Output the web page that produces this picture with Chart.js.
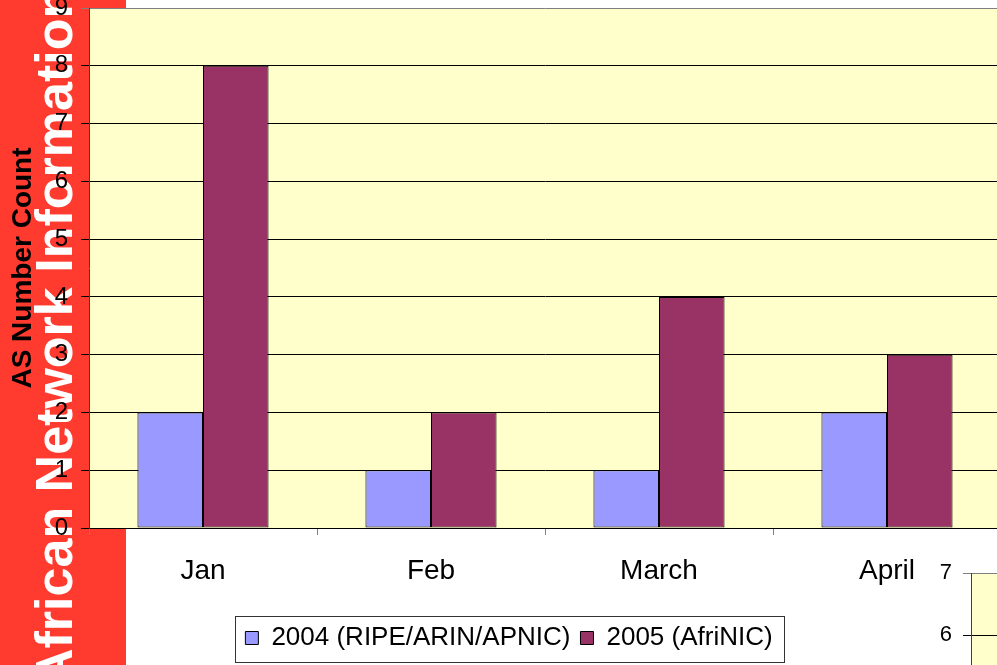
<!DOCTYPE html>
<html>
<head>
<meta charset="utf-8">
<script src="https://cdn.jsdelivr.net/npm/chart.js@4"></script>
<style>
    html, body { margin: 0; padding: 0; background: #fff; overflow: hidden; width: 997px; height: 665px; position: relative; }
    #band { position: absolute; left: 0; top: 0; width: 126px; height: 665px; background: #ff3b30; }
    #band-text { position: absolute; left: 28px; top: 686px; transform-origin: 0 0; transform: rotate(-90deg);
        font: bold 52px/52px "Liberation Sans", Arial, sans-serif; color: #fff; white-space: nowrap; }
    #main-chart { position: absolute; left: 0; top: 0; }
    #side-chart { position: absolute; left: 900px; top: 540px; }
</style>
</head>
<body>
<div id="band"></div>
<div id="band-text">African Network Information</div>
<canvas id="main-chart" width="1036" height="665"></canvas>
<canvas id="side-chart" width="200" height="500"></canvas>
<script>
// Data
const months = ['Jan', 'Feb', 'March', 'April'];
const count2004 = [2, 1, 1, 2];
const count2005 = [8, 2, 4, 3];
const mainMax = 9;
const sideMax = 7;

Chart.defaults.font.family = '"Liberation Sans", Arial, sans-serif';
Chart.defaults.color = '#000';

// yellow plot area
const plotBg = {
    id: 'plotBg',
    beforeDraw(chart) {
        const { ctx, chartArea: a } = chart;
        ctx.save();
        ctx.fillStyle = '#ffffcc';
        ctx.fillRect(a.left, a.top, a.right - a.left, a.bottom - a.top);
        ctx.restore();
    }
};

// frame round the legend
const legendBox = {
    id: 'legendBox',
    afterDraw(chart) {
        const lg = chart.legend;
        if (!lg || !lg.legendHitBoxes || !lg.legendHitBoxes.length) return;
        const hb = lg.legendHitBoxes;
        const last = hb[hb.length - 1];
        const left = Math.round(hb[0].left - 10) + 0.5;
        const right = Math.round(last.left + last.width + 11) + 0.5;
        const ctx = chart.ctx;
        ctx.save();
        ctx.strokeStyle = '#333';
        ctx.lineWidth = 1;
        ctx.strokeRect(left, Math.round(lg.top) + 1.5, right - left, Math.round(lg.height));
        ctx.restore();
    }
};

const gridColor = (ctx, max) => (ctx.tick && ctx.tick.value === max ? '#808080' : '#000');

new Chart(document.getElementById('main-chart'), {
    type: 'bar',
    data: {
        labels: months,
        datasets: [{
            label: '2004 (RIPE/ARIN/APNIC)',
            data: count2004,
            backgroundColor: '#9999ff',
            borderColor: '#000',
            borderWidth: 1,
            borderSkipped: false,
            barPercentage: 1,
            categoryPercentage: 0.575
        }, {
            label: '2005 (AfriNIC)',
            data: count2005,
            backgroundColor: '#993366',
            borderColor: '#000',
            borderWidth: 1,
            borderSkipped: false,
            barPercentage: 1,
            categoryPercentage: 0.575
        }]
    },
    options: {
        responsive: false,
        animation: false,
        // left padding only moves the legend; y axis is narrowed to match
        layout: { padding: { top: 8, left: 17, right: 35, bottom: 4 } },
        plugins: {
            legend: {
                position: 'bottom',
                labels: { color: '#000', font: { size: 26 }, boxWidth: 13, boxHeight: 13, padding: 10 }
            },
            tooltip: { enabled: false }
        },
        scales: {
            x: {
                grid: { drawOnChartArea: false, drawTicks: true, tickLength: 7, color: '#808080', offset: true },
                border: { color: '#000' },
                ticks: { color: '#000', font: { size: 28 }, padding: 19, maxRotation: 0 },
                afterFit(s) { s.height = 87; s.paddingLeft = 0; s.paddingRight = 0; }
            },
            y: {
                min: 0,
                max: mainMax,
                ticks: { stepSize: 1, color: '#000', font: { size: 24 }, padding: 13 },
                grid: { color: ctx => gridColor(ctx, mainMax), tickLength: 8 },
                border: { color: '#404040' },
                title: {
                    display: true,
                    text: 'AS Number Count',
                    color: '#000',
                    font: { size: 28, weight: 'bold' },
                    padding: { top: -11, bottom: 0 }
                },
                afterFit(s) { s.width = 72; s.paddingTop = 0; s.paddingBottom = 0; }
            }
        }
    },
    plugins: [plotBg, legendBox]
});

// the next chart, only its top left corner is on screen
new Chart(document.getElementById('side-chart'), {
    type: 'bar',
    data: { labels: [], datasets: [] },
    options: {
        responsive: false,
        animation: false,
        layout: { padding: { top: 33, left: 0, right: 0, bottom: 31 } },
        plugins: { legend: { display: false }, tooltip: { enabled: false } },
        scales: {
            x: { display: false },
            y: {
                min: 0,
                max: sideMax,
                ticks: { stepSize: 1, color: '#000', font: { size: 22 }, padding: 11 },
                grid: { color: ctx => gridColor(ctx, sideMax), tickLength: 8 },
                border: { color: '#404040' },
                afterFit(s) { s.width = 71; s.paddingTop = 0; s.paddingBottom = 0; }
            }
        }
    },
    plugins: [plotBg]
});
</script>
</body>
</html>
